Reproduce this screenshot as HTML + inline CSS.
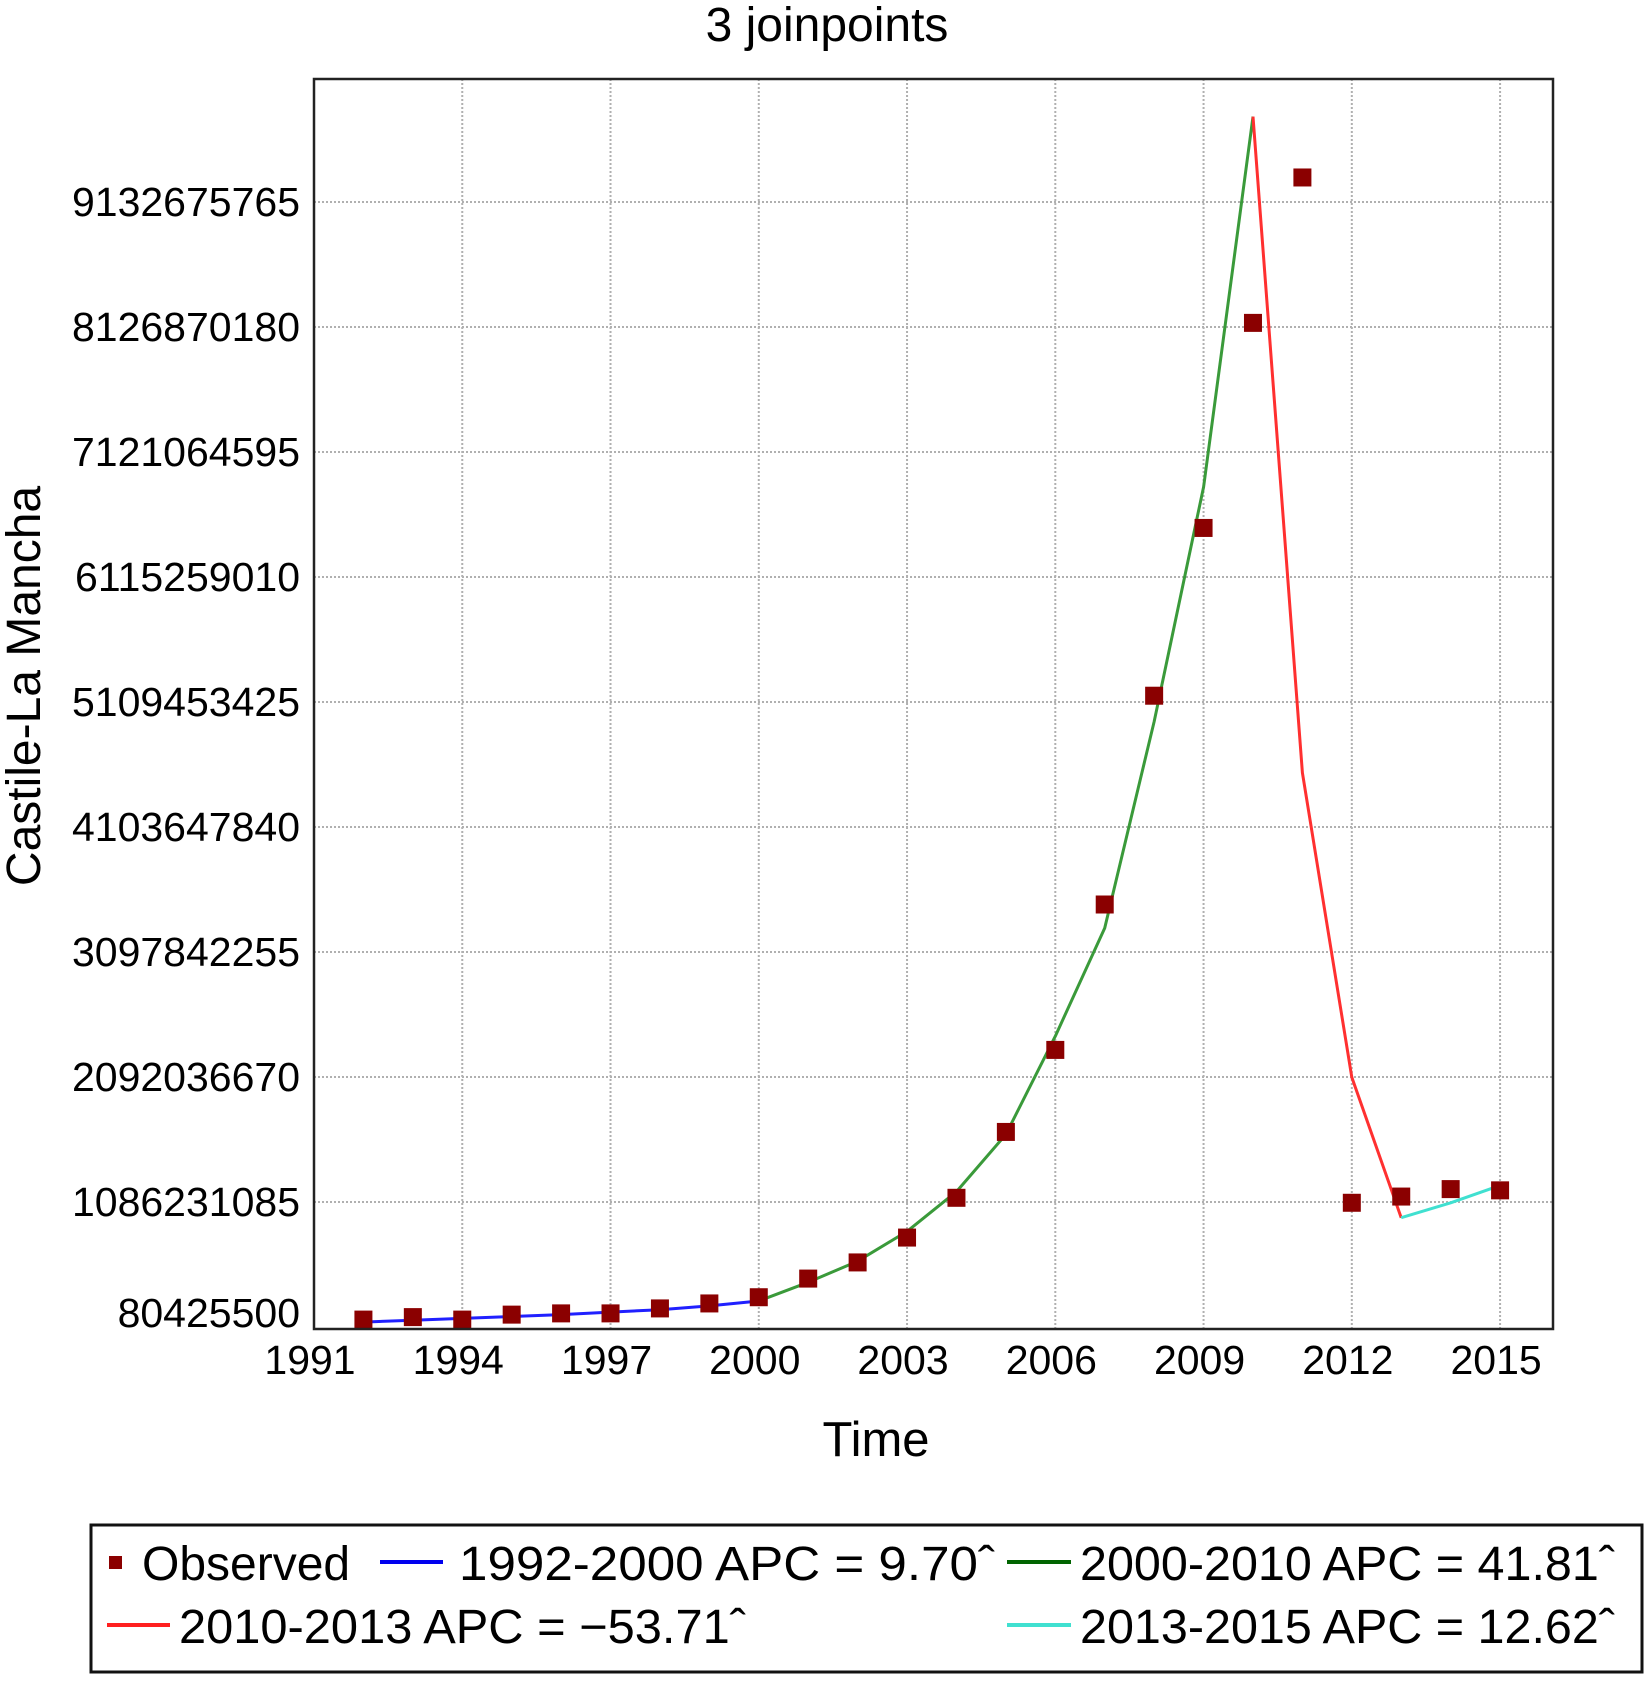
<!DOCTYPE html>
<html><head><meta charset="utf-8"><style>
html,body{margin:0;padding:0;background:#fff;}
svg{display:block;font-family:"Liberation Sans",Arial,sans-serif;}
</style></head><body>
<svg id="chart" width="1648" height="1701" viewBox="0 0 1648 1701" xmlns="http://www.w3.org/2000/svg">
<text x="827" y="41" font-size="48" text-anchor="middle">3 joinpoints</text>
<g id="grid"></g>
<g id="series"></g>
<g id="marks"></g>
<rect x="314" y="79" width="1239" height="1250" fill="none" stroke="#222" stroke-width="2.5"/>
<g id="yticks"></g>
<g id="xticks"></g>
<text x="876" y="1456" font-size="49" text-anchor="middle">Time</text>
<text x="0" y="0" font-size="48" text-anchor="middle" transform="translate(40,686) rotate(-90)">Castile-La Mancha</text>
<g>
<rect x="91" y="1525" width="1551" height="147" fill="#fff" stroke="#111" stroke-width="3"/>
<rect x="109" y="1556" width="13" height="13" fill="#8b0000"/>
<text x="142" y="1580" font-size="48">Observed</text>
<line x1="380" y1="1562" x2="443" y2="1562" stroke="#0000ee" stroke-width="4"/>
<text x="459" y="1580" font-size="48" textLength="536" lengthAdjust="spacingAndGlyphs">1992-2000 APC = 9.70ˆ</text>
<line x1="1007" y1="1562" x2="1071" y2="1562" stroke="#006400" stroke-width="4"/>
<text x="1080" y="1580" font-size="48" textLength="535" lengthAdjust="spacingAndGlyphs">2000-2010 APC = 41.81ˆ</text>
<line x1="107" y1="1625" x2="170" y2="1625" stroke="#ff2020" stroke-width="4"/>
<text x="179" y="1643" font-size="48" textLength="567" lengthAdjust="spacingAndGlyphs">2010-2013 APC = −53.71ˆ</text>
<line x1="1007" y1="1625" x2="1071" y2="1625" stroke="#40e0d0" stroke-width="4"/>
<text x="1080" y="1643" font-size="48" textLength="535" lengthAdjust="spacingAndGlyphs">2013-2015 APC = 12.62ˆ</text>
</g>
</svg>
<script>
const years = [1992,1993,1994,1995,1996,1997,1998,1999,2000,2001,2002,2003,2004,2005,2006,2007,2008,2009,2010,2011,2012,2013,2014,2015];
const observed = [0.14,0.16,0.14,0.18,0.19,0.19,0.23,0.27,0.32,0.47,0.60,0.80,1.12,1.65,2.31,3.48,5.16,6.51,8.16,9.33,1.08,1.13,1.19,1.18];
const blueYears = [1992,1993,1994,1995,1996,1997,1998,1999,2000];
const blueVals = [0.12,0.135,0.15,0.165,0.18,0.20,0.22,0.25,0.29];
const greenYears = [2000,2001,2002,2003,2004,2005,2006,2007,2008,2009,2010];
const greenVals = [0.29,0.44,0.61,0.85,1.17,1.63,2.42,3.29,4.95,6.84,9.82];
const redYears = [2010,2011,2012,2013];
const redVals = [9.82,4.54,2.09,0.96];
const cyanYears = [2013,2014,2015];
const cyanVals = [0.96,1.08,1.22];
const yTicks = [80425500,1086231085,2092036670,3097842255,4103647840,5109453425,6115259010,7121064595,8126870180,9132675765];
const xTicks = [1991,1994,1997,2000,2003,2006,2009,2012,2015];

const NS = "http://www.w3.org/2000/svg";
function xs(yr){ return 314 + (yr-1991)*49.42; }
function ys(b){ return 1327 - (b - 0.0804255)/1.005805585*125; }
function mk(tag, attrs, parent){ const e=document.createElementNS(NS,tag); for(const k in attrs) e.setAttribute(k,attrs[k]); parent.appendChild(e); return e; }

const grid=document.getElementById('grid');
yTicks.forEach(v=>{
  const y=ys(v/1e9);
  if(y<1320){
    const l=mk('line',{x1:314,x2:1553,y1:y,y2:y,stroke:'#b0b0b0','stroke-width':2,'stroke-dasharray':'2,2'},grid);
    
    
  }
  const t=mk('text',{x:300,y:Math.min(y,1313)+14,'font-size':41,'text-anchor':'end'},document.getElementById('yticks'));
  t.textContent=v;
  
  
});
xTicks.forEach(yr=>{
  const x=xs(yr);
  if(yr>1991){
    const l=mk('line',{x1:x,x2:x,y1:79,y2:1329,stroke:'#b0b0b0','stroke-width':2,'stroke-dasharray':'2,2'},grid);
    
    
  }
  const t=mk('text',{x:x-4,y:1374,'font-size':41,'text-anchor':'middle'},document.getElementById('xticks'));
  t.textContent=yr;
  
  
});
const ser=document.getElementById('series');
function line(xsArr, vals, color, name){
  const pts=xsArr.map((yr,i)=>xs(yr).toFixed(1)+','+ys(vals[i]).toFixed(1)).join(' ');
  const p=mk('polyline',{points:pts,fill:'none',stroke:color,'stroke-width':3,'stroke-linejoin':'round'},ser);
  
  
}
line(greenYears,greenVals,'#3a9a3a','segment-2000-2010');
line(redYears,redVals,'#ff3030','segment-2010-2013');
line(cyanYears,cyanVals,'#40e0d0','segment-2013-2015');
line(blueYears,blueVals,'#2020ff','segment-1992-2000');
const marks=document.getElementById('marks');
years.forEach((yr,i)=>{
  const r=mk('rect',{x:xs(yr)-9,y:ys(observed[i])-9,width:18,height:18,fill:'#8b0000'},marks);
  
  
});
</script>
</body></html>
